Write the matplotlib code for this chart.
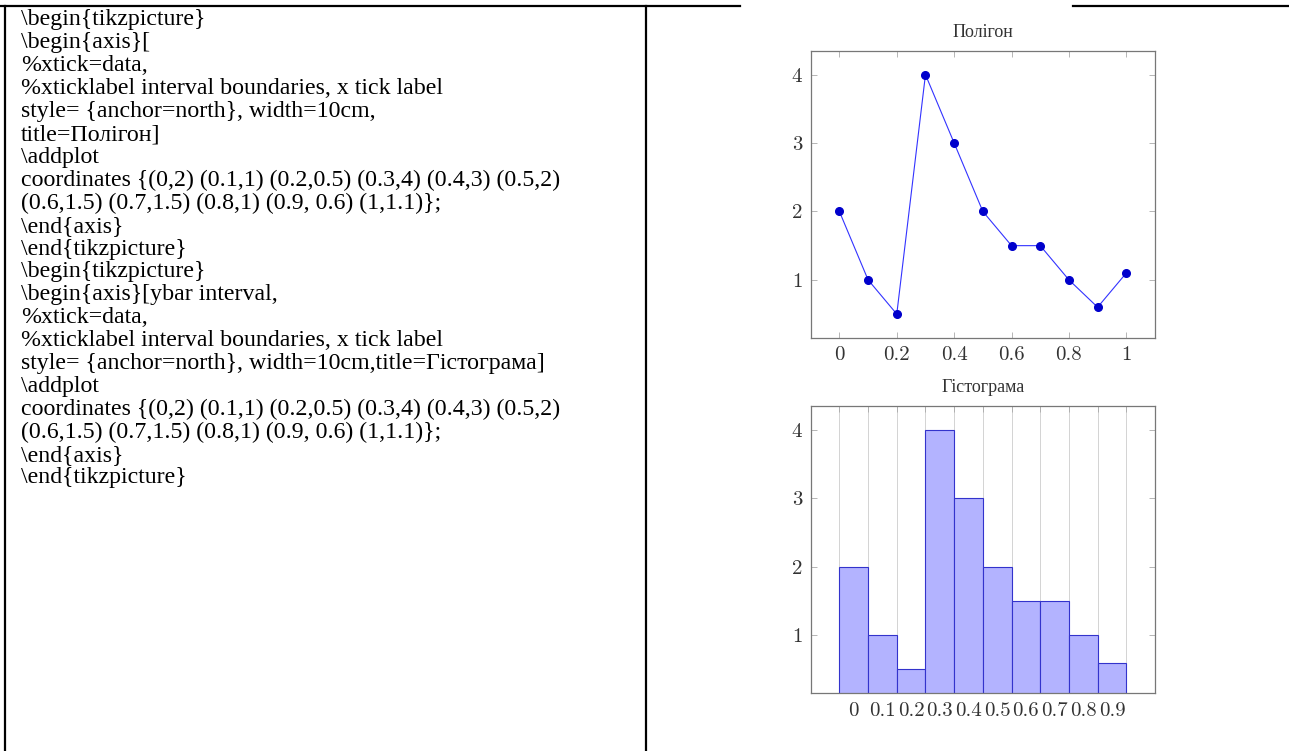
import matplotlib.pyplot as plt
from matplotlib.lines import Line2D

# data from the \addplot coordinates
x_vals = [0, 0.1, 0.2, 0.3, 0.4, 0.5, 0.6, 0.7, 0.8, 0.9, 1.0]
y_vals = [2, 1, 0.5, 4, 3, 2, 1.5, 1.5, 1, 0.6, 1.1]
y_ticks = [1, 2, 3, 4]
poly_xticks = [0, 0.2, 0.4, 0.6, 0.8, 1.0]
poly_xlabels = ["0", "0.2", "0.4", "0.6", "0.8", "1"]
hist_labels = ["0", "0.1", "0.2", "0.3", "0.4", "0.5", "0.6", "0.7", "0.8", "0.9"]

code_lines = [
    r"\begin{tikzpicture}",
    r"\begin{axis}[",
    r"%xtick=data,",
    r"%xticklabel interval boundaries, x tick label",
    r"style= {anchor=north}, width=10cm,",
    r"title=Полігон]",
    r"\addplot",
    r"coordinates {(0,2) (0.1,1) (0.2,0.5) (0.3,4) (0.4,3) (0.5,2)",
    r"(0.6,1.5) (0.7,1.5) (0.8,1) (0.9, 0.6) (1,1.1)};",
    r"\end{axis}",
    r"\end{tikzpicture}",
    r"\begin{tikzpicture}",
    r"\begin{axis}[ybar interval,",
    r"%xtick=data,",
    r"%xticklabel interval boundaries, x tick label",
    r"style= {anchor=north}, width=10cm,title=Гістограма]",
    r"\addplot",
    r"coordinates {(0,2) (0.1,1) (0.2,0.5) (0.3,4) (0.4,3) (0.5,2)",
    r"(0.6,1.5) (0.7,1.5) (0.8,1) (0.9, 0.6) (1,1.1)};",
    r"\end{axis}",
    r"\end{tikzpicture}",
]

W, H = 1289, 751
fig = plt.figure(figsize=(W / 100, H / 100), dpi=100)

def fy(py):
    return 1 - py / H

# table borders
border = dict(color="black", lw=1.6, transform=fig.transFigure)
fig.add_artist(Line2D([0, 740 / W], [fy(6), fy(6)], **border))
fig.add_artist(Line2D([1073 / W, 1], [fy(6), fy(6)], **border))
fig.add_artist(Line2D([5 / W, 5 / W], [0, fy(6)], **border))
fig.add_artist(Line2D([646 / W, 646 / W], [0, fy(6)], **border))

# code text in left cell
for i, line in enumerate(code_lines):
    fig.text(21 / W, fy(20 + 22.9 * i), line, fontsize=17.2,
             family="Liberation Serif", va="center", ha="left")

tick_font = dict(family=["cmr10", "DejaVu Serif"], fontsize=15, color="#333333")
axcol = "#777777"

def style_axes(ax):
    for s in ax.spines.values():
        s.set_color(axcol)
        s.set_linewidth(0.9)
    ax.tick_params(direction="in", top=True, right=True, length=4,
                   color="#aaaaaa", width=0.6, pad=6)
    ax.set_yticks(y_ticks)
    ax.set_yticklabels([str(v) for v in y_ticks], **tick_font)

# polygon
ax1 = fig.add_axes([810.7 / W, fy(338), (1155 - 810.7) / W, (338 - 50.7) / H])
ax1.plot(x_vals, y_vals, color="#3333ff", lw=0.8, marker="o",
         markersize=5.5, markerfacecolor="#0000cc", markeredgecolor="#0000cc")
ax1.set_xlim(-0.1, 1.1)
ax1.set_ylim(0.15, 4.35)
style_axes(ax1)
ax1.set_xticks(poly_xticks)
ax1.set_xticklabels(poly_xlabels, **tick_font)
ax1.set_title("Полігон", family="Liberation Serif", fontsize=13,
              color="#333333", pad=10)

# histogram (ybar interval: last point only closes the interval)
ax2 = fig.add_axes([810.7 / W, fy(693.3), (1155 - 810.7) / W, (693.3 - 406) / H])
lefts = x_vals[:-1]
widths = [x_vals[i + 1] - x_vals[i] for i in range(len(lefts))]
ax2.bar(lefts, y_vals[:-1], width=widths, align="edge", bottom=0,
        color="#b3b3ff", edgecolor="#3333cc", lw=0.8, zorder=2)
ax2.set_xlim(-0.1, 1.1)
ax2.set_ylim(0.15, 4.35)
style_axes(ax2)
ax2.set_xticks(x_vals)
ax2.set_xticklabels([])
ax2.grid(axis="x", color="#cccccc", lw=0.6, zorder=0)
centers = [l + w / 2 for l, w in zip(lefts, widths)]
ax2.set_xticks(centers, minor=True)
ax2.set_xticklabels(hist_labels, minor=True, **tick_font)
ax2.tick_params(axis="x", which="minor", length=0, pad=6)
ax2.set_title("Гістограма", family="Liberation Serif", fontsize=13,
              color="#333333", pad=10)

fig.savefig("out.png", dpi=100)
